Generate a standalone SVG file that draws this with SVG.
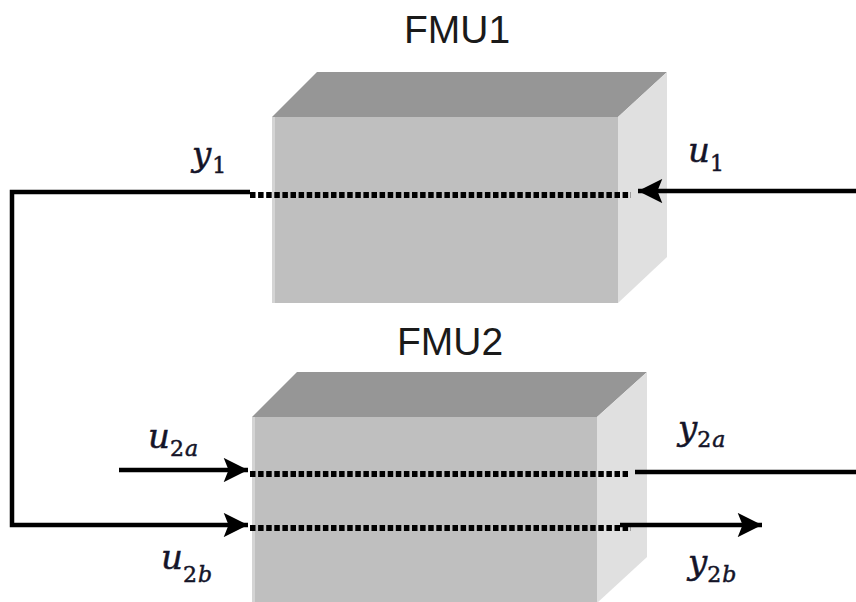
<svg xmlns="http://www.w3.org/2000/svg" width="856" height="602" viewBox="0 0 856 602">
<defs>
<style>
.top{fill:#969696}
.front{fill:#bfbfbf}
.side{fill:#e0e0e0}
.edge{fill:#d4d4d4}
.title{font-family:"Liberation Sans",Arial,sans-serif;font-size:39px;fill:#1a1a1a}
.math{font-family:"DejaVu Serif","Liberation Serif",serif;font-style:italic;font-size:34px;fill:#141428;stroke:#141428;stroke-width:0.5}
.sub{font-size:22px;font-style:normal;letter-spacing:1px}
.subi{font-size:22px}
.wire{fill:none;stroke:#000;stroke-width:4.5}
.dot{fill:none;stroke:#000;stroke-width:6;stroke-dasharray:5.5 2.6}
</style>
<marker id="ah" viewBox="0 0 10 10" refX="10" refY="5" markerWidth="8.5" markerHeight="5.4" markerUnits="strokeWidth" orient="auto">
<path d="M0,0 L10,5 L0,10 L2,5 Z" fill="#000"/>
</marker>
</defs>
<rect width="856" height="602" fill="#fff"/>
<g id="fmu1">
<polygon class="top" points="272,117 317,72 667,72 618,117"/>
<polygon class="side" points="618,117 667,72 667,257 618,303"/>
<rect class="front" x="272" y="117" width="346" height="186"/>
<rect class="edge" x="272" y="117" width="3" height="186"/>
<text class="title" x="457" y="43" text-anchor="middle">FMU1</text>
</g>
<g id="fmu2">
<polygon class="top" points="252,417 297,372 647,372 597,417"/>
<polygon class="side" points="597,417 647,372 647,557 597,603"/>
<rect class="front" x="252" y="417" width="345" height="186"/>
<rect class="edge" x="252" y="417" width="3" height="186"/>
<text class="title" x="450" y="355" text-anchor="middle">FMU2</text>
</g>
<g id="connectors">
<path class="dot" d="M250,195 H631"/>
<path class="dot" d="M250,474 H628"/>
<path class="dot" d="M250,528 H631"/>
<path class="wire" d="M250,192 H12 V525 H248" marker-end="url(#ah)"/>
<path class="wire" d="M856,191 H638" marker-end="url(#ah)"/>
<path class="wire" d="M119,470 H248" marker-end="url(#ah)"/>
<path class="wire" d="M635,472 H856"/>
<path class="wire" d="M620,525 H762" marker-end="url(#ah)"/>
</g>
<g id="labels">
<text class="math" x="192" y="166">y<tspan class="sub" dx="1" dy="7">1</tspan></text>
<text class="math" x="688" y="162">u<tspan class="sub" dy="9">1</tspan></text>
<text class="math" x="148" y="448">u<tspan class="sub" dy="8">2</tspan><tspan class="subi">a</tspan></text>
<text class="math" x="161" y="569">u<tspan class="sub" dy="13">2</tspan><tspan class="subi">b</tspan></text>
<text class="math" x="678" y="440">y<tspan class="sub" dy="7">2</tspan><tspan class="subi">a</tspan></text>
<text class="math" x="688" y="574">y<tspan class="sub" dy="8">2</tspan><tspan class="subi">b</tspan></text>
</g>
</svg>
